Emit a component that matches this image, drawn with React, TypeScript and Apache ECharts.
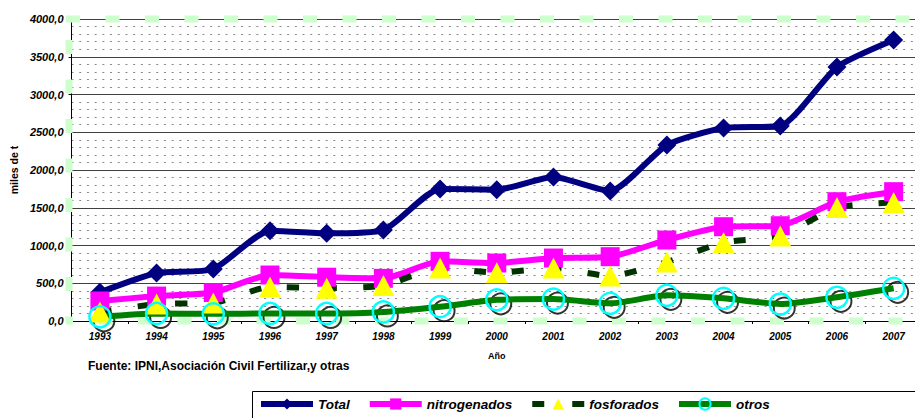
import React, { useEffect, useRef } from 'react';
import * as echarts from 'echarts';

const years = ['1993', '1994', '1995', '1996', '1997', '1998', '1999', '2000', '2001', '2002', '2003', '2004', '2005', '2006', '2007'];
const total = [380, 636, 689, 1196, 1162, 1205, 1750, 1740, 1907, 1722, 2331, 2556, 2583, 3364, 3722];
const nitrogenados = [265, 330, 377, 609, 580, 565, 790, 768, 834, 852, 1073, 1249, 1262, 1580, 1713];
const fosforados = [120, 225, 240, 450, 435, 470, 702, 640, 702, 596, 781, 1040, 1126, 1503, 1570];
const otros = [55, 100, 95, 100, 100, 120, 190, 280, 290, 234, 340, 300, 225, 314, 433];

const yTicks = { min: 0, max: 4000, interval: 500 };
const sourceText = 'Fuente: IPNI,Asociación Civil Fertilizar,y otras';

const FONT = '"Liberation Sans", Arial, sans-serif';

export default function App() {
  const ref = useRef<HTMLDivElement>(null);

  useEffect(() => {
    if (!ref.current) return;
    const chart = echarts.init(ref.current, null, { renderer: 'svg' });
    const greenDash = { stroke: '#ccffcc', lineWidth: 7, lineDash: [14, 25.5], fill: 'none' };
    chart.setOption({
      animation: false,
      backgroundColor: '#ffffff',
      textStyle: { fontFamily: FONT },
      title: {
        text: sourceText,
        left: 88,
        top: 360,
        padding: 0,
        textStyle: { fontFamily: FONT, fontSize: 12, fontWeight: 'bold', color: '#000' },
      },
      grid: { left: 69, top: 19, right: 8, bottom: 97, containLabel: false },
      legend: {
        data: [
          { name: 'Total' },
          { name: 'nitrogenados' },
          { name: 'fosforados', lineStyle: { type: [12, 28] } },
          { name: 'otros' },
        ],
        left: 258,
        top: 397,
        padding: 0,
        itemWidth: 52,
        itemHeight: 14,
        itemGap: 17,
        lineStyle: { width: 6 },
        textStyle: { fontFamily: FONT, fontSize: 13.5, fontWeight: 'bold', fontStyle: 'italic', color: '#000' },
      },
      graphic: [
        { type: 'rect', z: 1, silent: true, shape: { x: 252.5, y: 391.5, width: 700, height: 40 }, style: { stroke: '#000', lineWidth: 1, fill: 'none' } },
        { type: 'line', z: 1, silent: true, shape: { x1: 66, y1: 19, x2: 930, y2: 19 }, style: greenDash },
        { type: 'line', z: 1, silent: true, shape: { x1: 69, y1: 40, x2: 69, y2: 322 }, style: greenDash },
        { type: 'line', z: 1, silent: true, shape: { x1: 66, y1: 321, x2: 930, y2: 321 }, style: { ...greenDash, lineDashOffset: 7 } },
      ],
      xAxis: {
        type: 'category',
        data: years,
        boundaryGap: true,
        axisLine: { show: true, lineStyle: { color: '#000', width: 1 } },
        axisTick: { show: true, length: 3, lineStyle: { color: '#000' } },
        axisLabel: { interval: 0, margin: 10, fontFamily: FONT, fontSize: 10, fontWeight: 'bold', fontStyle: 'italic', color: '#000' },
        splitLine: { show: false },
        name: 'Año',
        nameLocation: 'middle',
        nameGap: 30,
        nameTextStyle: { fontFamily: FONT, fontSize: 9, fontWeight: 'bold', color: '#000' },
      },
      yAxis: {
        type: 'value',
        min: yTicks.min,
        max: yTicks.max,
        interval: yTicks.interval,
        axisLine: { show: true, lineStyle: { color: '#000', width: 1 } },
        axisTick: { show: true, length: 3, lineStyle: { color: '#000' } },
        axisLabel: {
          margin: 8,
          fontFamily: FONT,
          fontSize: 11,
          fontWeight: 'bold',
          fontStyle: 'italic',
          color: '#000',
          formatter: (v: number) => v.toFixed(1).replace('.', ','),
        },
        splitLine: { show: true, lineStyle: { color: '#404040', width: 1 } },
        minorTick: { show: false, splitNumber: 5 },
        minorSplitLine: { show: true, lineStyle: { color: '#888', width: 1, type: [2, 5.7] } },
        name: 'miles de t',
        nameLocation: 'middle',
        nameRotate: 90,
        nameGap: 51,
        nameTextStyle: { fontFamily: FONT, fontSize: 10.5, fontWeight: 'bold', color: '#000' },
      },
      series: [
        {
          name: 'Total',
          type: 'line',
          data: total,
          smooth: 0.2,
          symbol: 'diamond',
          symbolSize: 19,
          lineStyle: { color: '#000080', width: 6 },
          itemStyle: { color: '#000080' },
        },
        {
          name: 'nitrogenados',
          type: 'line',
          data: nitrogenados,
          smooth: 0.2,
          symbol: 'rect',
          symbolSize: 19,
          lineStyle: { color: '#ff00ff', width: 6 },
          itemStyle: { color: '#ff00ff' },
        },
        {
          name: 'fosforados',
          type: 'line',
          data: fosforados,
          smooth: 0.2,
          symbol: 'triangle',
          symbolSize: [22, 21],
          lineStyle: { color: '#003300', width: 6, type: [12, 26] },
          itemStyle: { color: '#ffff00' },
        },
        {
          name: 'otros-sombra',
          type: 'scatter',
          data: otros,
          silent: true,
          symbol: 'circle',
          symbolSize: 21,
          symbolOffset: [4, 4],
          itemStyle: { color: 'rgba(0,0,0,0)', borderColor: '#000', borderWidth: 2 },
        },
        {
          name: 'otros',
          type: 'line',
          data: otros,
          smooth: 0.2,
          symbol: 'circle',
          symbolSize: 21,
          lineStyle: { color: '#008000', width: 6 },
          itemStyle: { color: 'rgba(0,0,0,0)', borderColor: '#00ffff', borderWidth: 2.5 },
        },
      ],
    });
    return () => chart.dispose();
  }, []);

  return (
    <div
      ref={ref}
      style={{ position: 'fixed', left: 0, top: 0, width: 930, height: 418, background: '#fff' }}
    />
  );
}
